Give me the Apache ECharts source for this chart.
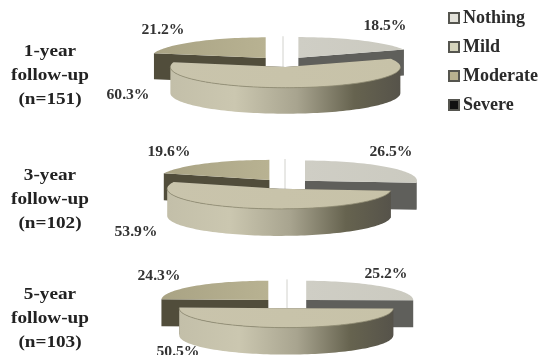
<!DOCTYPE html>
<html>
<head>
<meta charset="utf-8">
<style>html,body{margin:0;padding:0;background:#fff}#chart{width:541px;height:355px}</style>
<script src="https://cdn.jsdelivr.net/npm/echarts@6/dist/echarts.min.js"></script>
</head>
<body>
<div id="chart"></div>
<script>
// Degree of symptoms at each follow-up visit, in percent
const followUps = ['1-year\nfollow-up\n(n=151)', '3-year\nfollow-up\n(n=102)', '5-year\nfollow-up\n(n=103)'];
const nothing = [18.5, 26.5, 25.2];
const mild = [60.3, 53.9, 50.5];
const moderate = [21.2, 19.6, 24.3];
const severe = [0, 0, 0];

// Placement of each exploded pie
const pieX = [283, 285, 287];
const pieY = [62, 184, 303.5];
const pieRadius = [115, 112, 107];
const pieDepth = [26, 27, 27];
const pieExplode = [28, 27, 27];
const tilt = 0.18;
const rowTitleY = [76, 199.5, 319];

// Value label centres per follow-up
const nothingLabels = [[385, 26], [391, 152], [386, 274]];
const mildLabels = [[128, 95], [136, 232], [178, 352]];
const moderateLabels = [[163, 30], [169, 152], [159, 276]];

const serif = '"Liberation Serif", serif';

const hGrad = (stops) => ({
  type: 'linear', x: 0, y: 0, x2: 1, y2: 0,
  colorStops: stops.map(([offset, color]) => ({ offset, color }))
});

const styles = {
  Nothing: { top: hGrad([[0, '#cfcec5'], [1, '#cbcac0']]), cut: '#5f5f5b', wall: '#5f5f5b', icon: '#e3e2da' },
  Mild: {
    top: hGrad([[0, '#c9c4ac'], [1, '#c7c2a8']]),
    cut: '#55524a',
    wall: hGrad([[0, '#c3bfa9'], [0.28, '#cbc7b0'], [0.55, '#a8a48f'], [0.8, '#66634f'], [1, '#56534a']]),
    edge: '#8f8b72', icon: '#d5d4bc'
  },
  Moderate: { top: hGrad([[0, '#a9a384'], [1, '#b8b292']]), cut: '#514d3b', wall: '#514d3b', icon: '#b8b18f' },
  Severe: { line: '#d2d2cd', icon: '#111111' }
};

const arcPoints = (cx, cy, a, b, from, to) => {
  const steps = Math.max(2, Math.ceil(Math.abs(to - from) / 2));
  const pts = [];
  for (let i = 0; i <= steps; i++) {
    const t = (from + (to - from) * i / steps) * Math.PI / 180;
    pts.push([cx + a * Math.sin(t), cy - b * Math.cos(t)]);
  }
  return pts;
};

// One wedge of a tilted pie: radial faces, front rim and top surface
function wedge(name, labels) {
  return (params, api) => {
    const i = params.dataIndex;
    const pct = api.value(0);
    const from = api.value(1) * 3.6;
    const to = from + pct * 3.6;
    const mid = (from + to) / 2 * Math.PI / 180;
    const a = pieRadius[i], b = a * tilt, h = pieDepth[i];
    const cx = pieX[i] + pieExplode[i] * Math.sin(mid);
    const cy = pieY[i] - pieExplode[i] * tilt * Math.cos(mid);
    const st = styles[name];

    if (pct === 0) {
      return {
        type: 'line',
        shape: { x1: cx, y1: cy - b, x2: cx, y2: cy + h },
        style: { stroke: st.line, lineWidth: 1 }
      };
    }

    const rim = arcPoints(cx, cy, a, b, from, to);
    const children = [];
    [rim[0], rim[rim.length - 1]].forEach((p) => {
      children.push({
        type: 'polygon',
        shape: { points: [[cx, cy], p, [p[0], p[1] + h], [cx, cy + h]] },
        style: { fill: st.cut }
      });
    });
    const front = arcPoints(cx, cy, a, b, Math.max(from, 90), Math.min(to, 270));
    if (from < 270 && to > 90) {
      children.push({
        type: 'polygon',
        shape: { points: front.concat(front.slice().reverse().map((p) => [p[0], p[1] + h])) },
        style: { fill: st.wall }
      });
    }
    children.push({
      type: 'polygon',
      shape: { points: [[cx, cy]].concat(rim) },
      style: { fill: st.top }
    });
    if (st.edge) {
      children.push({
        type: 'polyline',
        shape: { points: front },
        style: { stroke: st.edge, lineWidth: 0.8, fill: 'none' }
      });
    }
    children.push({
      type: 'text',
      x: labels[i][0],
      y: labels[i][1],
      scaleX: 1.08,
      style: {
        text: pct.toFixed(1) + '%',
        font: 'bold 14.5px ' + serif,
        fill: '#333333',
        align: 'center',
        verticalAlign: 'middle'
      }
    });
    return { type: 'group', children };
  };
}

const startOf = (...before) => nothing.map((_, i) => before.reduce((s, arr) => s + arr[i], 0));

function series(name, values, starts, labels, z) {
  return {
    name,
    type: 'custom',
    coordinateSystem: 'none',
    z,
    silent: true,
    animation: false,
    renderItem: wedge(name, labels),
    itemStyle: { color: styles[name].icon, borderColor: '#55554f', borderWidth: 1 },
    data: values.map((v, i) => [v, starts[i]])
  };
}

const chart = echarts.init(document.getElementById('chart'), null, { renderer: 'canvas' });
chart.setOption({
  animation: false,
  backgroundColor: '#ffffff',
  legend: {
    orient: 'vertical',
    left: 448,
    top: 8,
    padding: 0,
    itemWidth: 10,
    itemHeight: 10,
    itemGap: 9,
    icon: 'rect',
    selectedMode: false,
    data: ['Nothing', 'Mild', 'Moderate', 'Severe'],
    textStyle: {
      fontFamily: serif,
      fontWeight: 'bold',
      fontSize: 18,
      color: '#2b2b2b',
      lineHeight: 20,
      padding: [0, 0, 0, -1]
    }
  },
  graphic: followUps.map((text, i) => ({
    type: 'text',
    x: 50,
    y: rowTitleY[i],
    scaleX: 1.13,
    silent: true,
    style: {
      text,
      font: 'bold 17px ' + serif,
      fill: '#222222',
      lineHeight: 24,
      align: 'center',
      verticalAlign: 'middle'
    }
  })),
  series: [
    series('Nothing', nothing, startOf(), nothingLabels, 2),
    series('Mild', mild, startOf(nothing), mildLabels, 4),
    series('Moderate', moderate, startOf(nothing, mild), moderateLabels, 1),
    series('Severe', severe, startOf(nothing, mild, moderate), [], 3)
  ]
});
</script>
</body>
</html>
